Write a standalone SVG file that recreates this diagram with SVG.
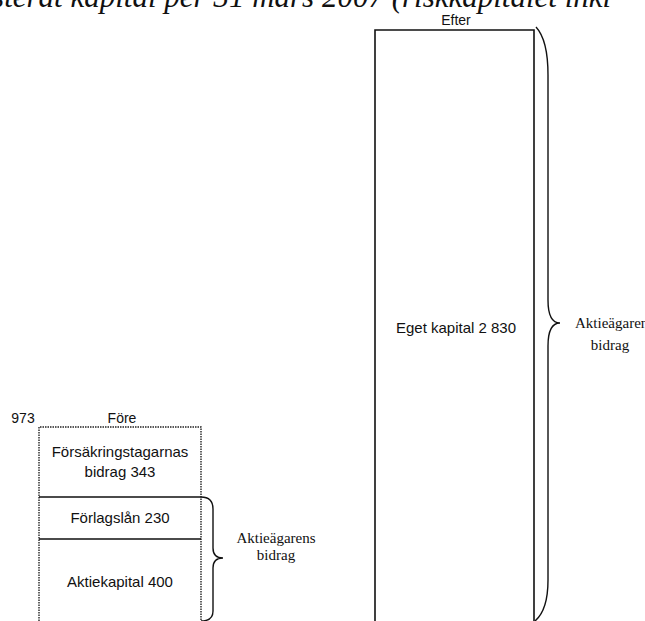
<svg xmlns="http://www.w3.org/2000/svg" width="645" height="621" viewBox="0 0 645 621">
<style>
.t{font-family:"Liberation Sans",Arial,sans-serif;font-size:15px;fill:#111;text-anchor:middle}
.s{font-family:"Liberation Serif","Times New Roman",serif;font-size:15px;fill:#111;text-anchor:middle}
.title{font-family:"Liberation Serif","Times New Roman",serif;font-size:31px;font-style:italic;fill:#111}
.solid{fill:none;stroke:#111;stroke-width:1.6}
.dot{fill:none;stroke:#222;stroke-width:1.4;stroke-dasharray:1.5 1}
.brace{fill:none;stroke:#111;stroke-width:1.4}
</style>
<rect width="645" height="621" fill="#fff"/>
<text class="title" x="-32" y="7">justerat kapital per 31 mars 2007 (riskkapitalet inkl</text>
<g id="fore">
<text class="t" x="23" y="423" style="font-size:14px">973</text>
<text class="t" x="122" y="423" style="font-size:14px">Före</text>
</g>
<g id="forsakringstagarnas">
<path class="dot" d="M39,621 V427 H201 V621"/>
<text class="t" x="120" y="457">Försäkringstagarnas</text>
<text class="t" x="120" y="477">bidrag 343</text>
</g>
<g id="forlagslan">
<path class="solid" d="M39,497 H201 M39,539 H201"/>
<text class="t" x="120" y="523">Förlagslån 230</text>
</g>
<g id="aktiekapital">
<text class="t" x="120" y="587">Aktiekapital 400</text>
</g>
<g id="efter">
<text class="t" x="456" y="25" style="font-size:14px">Efter</text>
<path class="solid" d="M375,621 V30 H534 V621"/>
<text class="t" x="456" y="333">Eget kapital 2 830</text>
</g>
<g id="connectors">
<path class="brace" d="M201,497 Q213,497 213,509 V548 Q213,558 223,558 Q213,558 213,568 V611 Q213,621 201,621"/>
<path class="brace" d="M536,27 Q548,40 548,75 V300 Q548,323 560,323 Q548,323 548,346 V580 Q548,610 535,621"/>
</g>
<g id="labels">
<text class="s" x="276" y="543">Aktieägarens</text>
<text class="s" x="276" y="560">bidrag</text>
<text class="s" x="575" y="328" style="text-anchor:start">Aktieägarens</text>
<text class="s" x="610" y="350">bidrag</text>
</g>
</svg>
